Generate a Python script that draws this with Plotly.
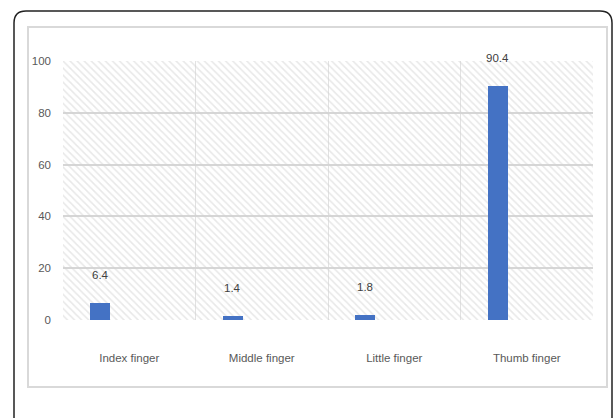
import plotly.graph_objects as go

categories = ["Index finger", "Middle finger", "Little finger", "Thumb finger"]
values = [6.4, 1.4, 1.8, 90.4]
value_labels = ["6.4", "1.4", "1.8", "90.4"]
y_ticks = [0, 20, 40, 60, 80, 100]

W, H = 615, 418
ML, MR, MT, MB = 63, 22, 61, 98
PW, PH = W - ML - MR, H - MT - MB

def px(x):
    return (x - ML) / PW

def py(y):
    return (H - MB - y) / PH

FONT = "Liberation Sans Narrow, Arial Narrow, Liberation Sans, Arial, sans-serif"

fig = go.Figure()

# hatched background of the plot area (on hidden unit axes)
fig.add_trace(go.Scatter(
    x=[0, 1, 1, 0, 0], y=[0, 0, 1, 1, 0], xaxis="x", yaxis="y",
    mode="lines", line=dict(width=0), fill="toself",
    fillcolor="rgba(0,0,0,0)",
    fillpattern=dict(shape="\\", size=5, solidity=0.32,
                     fgcolor="#d2d2d2", bgcolor="rgba(0,0,0,0)"),
    hoverinfo="skip", showlegend=False,
))

fig.add_trace(go.Bar(
    x=categories, y=values, xaxis="x2", yaxis="y2",
    width=0.15, offset=-0.294,
    marker=dict(color="#4472C4", line=dict(width=0)),
    showlegend=False,
))

for c, v, t in zip(categories, values, value_labels):
    fig.add_annotation(x=c, y=v, xref="x2", yref="y2", text=t,
                       showarrow=False, xshift=-29, yshift=28,
                       yanchor="middle",
                       font=dict(family=FONT, size=11.5, color="#404040"))

# outer rounded border
r = 12
x0, x1, y0, y1 = 14, 612, 11, 440
path = (f"M {px(x0)} {py(y0 + r)} Q {px(x0)} {py(y0)} {px(x0 + r)} {py(y0)} "
        f"L {px(x1 - r)} {py(y0)} Q {px(x1)} {py(y0)} {px(x1)} {py(y0 + r)} "
        f"L {px(x1)} {py(y1)} L {px(x0)} {py(y1)} Z")
fig.add_shape(type="path", path=path, xref="paper", yref="paper",
              line=dict(color="#222222", width=1.5), layer="above")
# inner chart frame
fig.add_shape(type="rect", xref="paper", yref="paper",
              x0=px(28), x1=px(607), y0=py(387), y1=py(27),
              line=dict(color="#d9d9d9", width=2), layer="below")

fig.update_layout(
    width=W, height=H,
    margin=dict(l=ML, r=MR, t=MT, b=MB),
    paper_bgcolor="white", plot_bgcolor="white",
    bargap=0,
    xaxis=dict(range=[0, 1], visible=False, fixedrange=True),
    yaxis=dict(range=[0, 1], visible=False, fixedrange=True),
    xaxis2=dict(overlaying="x", type="category", range=[-0.5, 3.5],
                tickson="boundaries", showgrid=True, gridcolor="#e2e2e2",
                gridwidth=1, ticks="", showline=False, zeroline=False,
                ticklabelstandoff=29,
                tickfont=dict(family=FONT, size=11.5, color="#595959")),
    yaxis2=dict(overlaying="y", range=[0, 100], tickvals=y_ticks,
                showgrid=True, gridcolor="#d6d6d6", gridwidth=1.5,
                zeroline=False, showline=False, ticks="",
                ticklabelstandoff=11,
                tickfont=dict(family=FONT, size=11.5, color="#595959")),
)

fig.write_html("out.html")
